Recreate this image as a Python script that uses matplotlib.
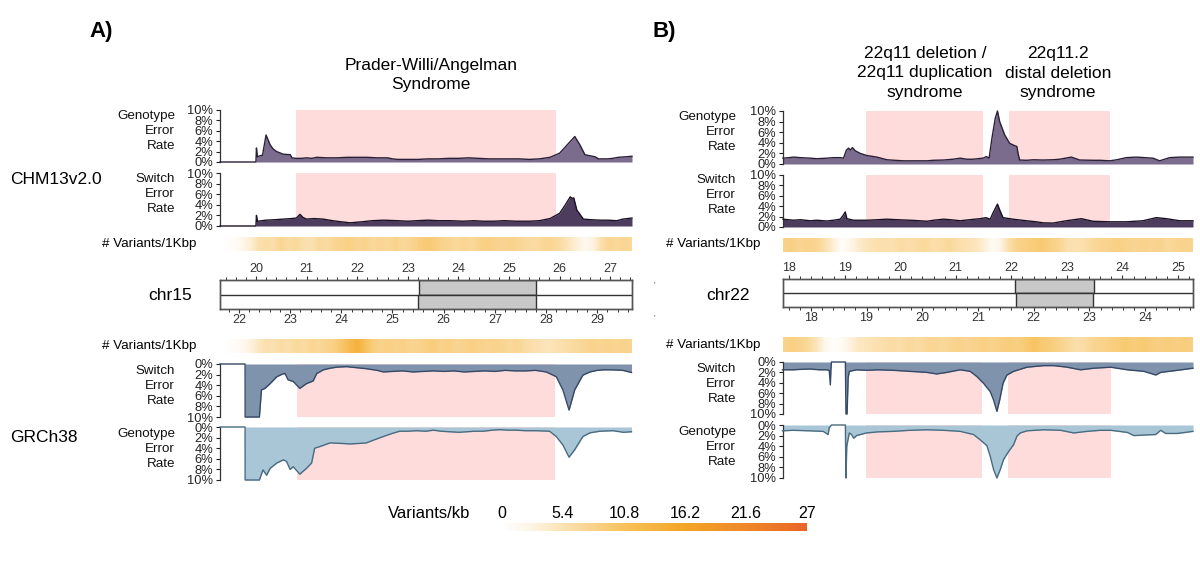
import numpy as np
import matplotlib
matplotlib.use('Agg')
import matplotlib.pyplot as plt
from matplotlib.colors import LinearSegmentedColormap
from matplotlib.patches import Rectangle
from matplotlib.ticker import MultipleLocator

plt.rcParams['font.family'] = ['Liberation Sans', 'DejaVu Sans']

# ---------------- data ----------------
# Panel A (chr15) : CHM13 coordinates (Mb) for top tracks, GRCh38 for bottom tracks
A_top_lim = (19.29, 27.43)
A_bot_lim = (21.63, 29.68)
A_top_cen = (23.22, 25.53)
A_bot_cen = (25.50, 27.80)
A_top_pink = [(20.79, 25.93)]
A_bot_pink = [(23.13, 28.17)]

A_chm_geno = [(19.29, 0), (20.00, 0), (20.01, 2.7), (20.03, 1.0), (20.08, 1.2), (20.13, 1.3),
              (20.20, 5.2), (20.28, 3.3), (20.34, 2.5), (20.41, 2.0), (20.54, 1.5), (20.68, 1.4),
              (20.71, 0.8), (20.80, 0.7), (20.90, 0.7), (21.00, 0.8), (21.10, 0.7), (21.20, 0.9),
              (21.40, 0.8), (21.60, 0.8), (21.80, 0.9), (22.00, 0.9), (22.20, 0.9), (22.40, 0.8),
              (22.60, 0.8), (22.70, 0.6), (22.80, 0.5), (23.00, 0.5), (23.20, 0.5), (23.40, 0.6),
              (23.60, 0.6), (23.80, 0.7), (24.00, 0.7), (24.20, 0.8), (24.40, 0.7), (24.60, 0.6),
              (24.80, 0.6), (25.00, 0.6), (25.20, 0.6), (25.40, 0.5), (25.60, 0.6), (25.81, 0.9),
              (26.00, 1.7), (26.15, 3.3), (26.30, 4.9), (26.40, 3.3), (26.50, 1.4), (26.60, 1.2),
              (26.70, 1.0), (26.77, 0.6), (26.95, 0.6), (27.05, 0.7), (27.16, 0.9), (27.30, 1.0),
              (27.43, 1.1)]

A_chm_switch = [(19.29, 0), (20.00, 0), (20.01, 2.0), (20.03, 0.9), (20.20, 1.1), (20.40, 1.2),
                (20.54, 1.3), (20.70, 1.4), (20.80, 1.5), (20.87, 2.2), (20.93, 1.6), (21.00, 1.3),
                (21.15, 1.4), (21.33, 1.3), (21.45, 1.1), (21.59, 0.9), (21.86, 0.6), (22.10, 0.8),
                (22.30, 1.0), (22.52, 1.1), (22.80, 1.0), (23.00, 0.9), (23.18, 1.0), (23.40, 1.1),
                (23.60, 1.0), (23.83, 1.0), (24.10, 0.9), (24.30, 1.0), (24.49, 0.9), (24.70, 0.9),
                (24.90, 1.0), (25.15, 0.9), (25.40, 0.9), (25.60, 1.0), (25.81, 1.4), (26.00, 2.4),
                (26.10, 3.8), (26.21, 5.5), (26.25, 5.2), (26.28, 5.3), (26.34, 3.0), (26.47, 1.3),
                (26.60, 1.2), (26.80, 1.1), (26.95, 1.1), (27.13, 1.0), (27.25, 1.3), (27.43, 1.5)]

A_grc_switch = [(21.63, 0), (22.12, 0), (22.121, 10), (22.40, 10), (22.44, 4.9), (22.51, 4.6),
                (22.61, 3.7), (22.74, 2.4), (22.85, 1.9), (22.90, 1.8), (22.96, 3.0), (23.06, 3.3),
                (23.19, 4.6), (23.32, 3.7), (23.45, 3.2), (23.52, 1.8), (23.65, 1.1), (23.78, 0.8),
                (23.91, 0.6), (24.10, 0.5), (24.30, 0.7), (24.50, 0.9), (24.70, 1.2), (24.82, 1.5),
                (25.00, 1.4), (25.20, 1.3), (25.40, 1.5), (25.60, 1.4), (25.80, 1.3), (26.00, 1.4),
                (26.20, 1.3), (26.40, 1.5), (26.60, 1.4), (26.80, 1.3), (27.00, 1.4), (27.20, 1.2),
                (27.40, 1.3), (27.60, 1.3), (27.80, 1.2), (28.00, 1.5), (28.07, 1.8), (28.20, 2.4),
                (28.33, 4.9), (28.45, 8.7), (28.56, 4.9), (28.72, 2.1), (28.86, 1.5), (29.00, 1.2),
                (29.12, 1.1), (29.30, 1.1), (29.50, 1.2), (29.67, 1.6)]

A_grc_geno = [(21.63, 0), (22.12, 0), (22.121, 10), (22.40, 10), (22.47, 8.1), (22.54, 9.1),
              (22.61, 7.8), (22.74, 6.8), (22.87, 6.2), (22.93, 6.5), (23.00, 8.0), (23.06, 7.5),
              (23.19, 8.9), (23.32, 7.8), (23.42, 6.8), (23.48, 4.0), (23.58, 3.7), (23.78, 3.0),
              (24.00, 3.1), (24.17, 3.2), (24.35, 3.1), (24.49, 3.0), (24.65, 2.4), (24.82, 1.8),
              (25.00, 1.2), (25.14, 0.8), (25.30, 0.8), (25.47, 0.7), (25.65, 0.8), (25.80, 0.6),
              (25.95, 0.8), (26.12, 0.9), (26.30, 1.0), (26.45, 0.9), (26.60, 0.8), (26.77, 0.8),
              (26.95, 0.6), (27.10, 0.5), (27.25, 0.6), (27.42, 0.6), (27.60, 0.7), (27.80, 0.7),
              (28.07, 0.8), (28.20, 1.8), (28.33, 3.4), (28.45, 5.7), (28.56, 4.3), (28.72, 1.8),
              (28.86, 1.1), (29.05, 0.8), (29.31, 0.7), (29.51, 1.0), (29.67, 0.9)]

A_chm_density = [0, 0.3, 1.0, 2, 3.5, 5.5, 6.5, 6, 7.5, 6.5, 7, 6, 5.5, 7, 6.5, 7.5, 8, 8.5, 7.5,
                 8, 7, 7.5, 7, 8, 7, 7.5, 8.5, 9.5, 9, 8, 7.5, 7, 7.5, 7, 8, 8.5, 8, 7.5, 8, 7.5,
                 7, 6.5, 7, 7.5, 7, 6, 4.5, 3, 1.5, 3, 6, 7.5, 7, 7.5, 7]
A_grc_density = [0, 0.3, 0.8, 1.5, 3, 4.5, 6, 5.5, 6.5, 6, 7, 6.5, 7.5, 7, 8, 8.5, 10, 12, 14, 11,
                 9, 8, 8.5, 8, 8.5, 7.5, 8, 8.5, 9, 8, 8.5, 7.5, 8, 8.5, 8, 7.5, 8, 7.5, 7, 7.5,
                 6.5, 6, 5.5, 5, 5.5, 6, 6.5, 7, 7.5, 8, 7.5, 8, 7.5, 8, 7.5]

# Panel B (chr22)
B_top_lim = (17.89, 25.27)
B_bot_lim = (17.50, 24.86)
B_top_cen = (22.07, 23.49)
B_bot_cen = (21.68, 23.07)
B_top_pink = [(19.38, 21.49), (21.96, 23.77)]
B_bot_pink = [(18.99, 21.08), (21.54, 23.38)]

B_chm_geno = [(17.89, 1.1), (18.00, 1.2), (18.08, 1.3), (18.20, 1.2), (18.38, 1.1), (18.50, 1.0),
              (18.68, 1.1), (18.80, 1.2), (18.92, 1.2), (18.98, 1.1), (19.03, 2.6), (19.07, 3.0),
              (19.10, 2.6), (19.14, 3.1), (19.19, 2.5), (19.28, 2.0), (19.40, 1.6), (19.58, 1.3),
              (19.76, 0.8), (19.90, 0.7), (20.06, 0.6), (20.25, 0.6), (20.48, 0.6), (20.60, 0.7),
              (20.78, 0.75), (20.95, 0.9), (21.08, 1.1), (21.20, 0.9), (21.31, 0.9), (21.49, 1.1),
              (21.55, 1.4), (21.60, 1.1), (21.65, 4.8), (21.71, 8.6), (21.75, 10.0), (21.79, 8.0),
              (21.88, 5.5), (21.97, 3.9), (22.05, 3.5), (22.10, 3.3), (22.12, 2.0), (22.15, 0.75),
              (22.27, 0.7), (22.40, 0.8), (22.57, 0.75), (22.75, 0.8), (22.87, 0.9), (23.08, 1.3),
              (23.23, 0.75), (23.47, 0.7), (23.60, 0.7), (23.77, 0.6), (23.90, 0.8), (24.07, 1.2),
              (24.25, 1.3), (24.40, 1.2), (24.55, 1.1), (24.67, 0.6), (24.85, 1.2), (25.03, 1.3),
              (25.15, 1.3), (25.27, 1.3)]

B_chm_switch = [(17.89, 1.5), (18.08, 1.3), (18.20, 1.4), (18.38, 1.2), (18.50, 1.3), (18.68, 1.15),
                (18.80, 1.3), (18.92, 1.5), (18.97, 2.2), (19.01, 2.9), (19.04, 1.6), (19.16, 1.3),
                (19.40, 1.3), (19.60, 1.4), (19.76, 1.5), (19.95, 1.4), (20.18, 1.3), (20.35, 1.2),
                (20.48, 1.1), (20.60, 1.3), (20.78, 1.5), (20.90, 1.4), (21.08, 1.2), (21.25, 1.4),
                (21.44, 1.6), (21.54, 1.8), (21.62, 1.5), (21.67, 2.7), (21.75, 4.4), (21.79, 3.3),
                (21.85, 1.8), (22.03, 1.5), (22.27, 1.2), (22.45, 1.0), (22.57, 0.8), (22.75, 0.75),
                (22.99, 1.2), (23.26, 1.6), (23.47, 1.1), (23.77, 1.0), (24.07, 1.0), (24.37, 1.2),
                (24.61, 1.8), (24.79, 1.6), (25.03, 1.2), (25.27, 1.2)]

B_grc_switch = [(17.49, 1.5), (17.68, 1.5), (17.85, 1.4), (17.98, 1.35), (18.15, 1.5), (18.28, 1.5),
                (18.33, 1.6), (18.35, 4.4), (18.36, 1.5), (18.37, 0), (18.62, 0), (18.63, 10),
                (18.65, 10), (18.67, 3.0), (18.69, 1.8), (18.82, 1.5), (19.00, 1.6), (19.20, 1.5),
                (19.48, 1.6), (19.78, 1.8), (20.08, 2.0), (20.26, 2.3), (20.44, 2.0), (20.68, 1.5),
                (20.86, 1.8), (20.98, 2.8), (21.10, 4.1), (21.22, 5.7), (21.28, 7.3), (21.34, 9.5),
                (21.39, 7.3), (21.45, 4.1), (21.52, 2.5), (21.64, 1.8), (21.88, 1.0), (22.18, 0.7),
                (22.36, 0.7), (22.60, 1.0), (22.84, 1.5), (23.08, 1.2), (23.38, 1.0), (23.68, 1.5),
                (23.98, 1.8), (24.19, 2.5), (24.28, 2.0), (24.58, 1.6), (24.86, 1.2)]

B_grc_geno = [(17.49, 1.1), (17.68, 1.0), (17.98, 1.1), (18.22, 1.2), (18.28, 1.6), (18.31, 1.8),
              (18.33, 0.5), (18.37, 0), (18.62, 0), (18.63, 10), (18.645, 4.0), (18.69, 1.5),
              (18.73, 1.8), (18.77, 2.5), (18.82, 2.0), (19.00, 1.5), (19.20, 1.3), (19.48, 1.2),
              (19.78, 1.0), (20.08, 0.9), (20.38, 1.0), (20.68, 1.2), (20.92, 1.8), (21.04, 2.8),
              (21.16, 3.9), (21.22, 5.9), (21.28, 8.4), (21.34, 10.0), (21.40, 8.4), (21.46, 6.5),
              (21.55, 5.0), (21.64, 3.7), (21.70, 2.1), (21.76, 1.5), (21.88, 1.1), (22.18, 0.9),
              (22.48, 1.0), (22.72, 1.5), (22.96, 1.2), (23.20, 1.0), (23.38, 1.0), (23.68, 1.4),
              (23.80, 2.0), (23.98, 1.9), (24.19, 1.8), (24.28, 1.0), (24.37, 1.6), (24.58, 1.6),
              (24.86, 1.2)]

B_chm_density = [8, 8.5, 7.5, 8, 7.5, 6, 3.5, 0.5, 2, 4, 5, 5.5, 6, 5.5, 6.5, 6, 6.5, 7, 6, 6.5,
                 7, 6, 5.5, 5, 3.5, 1, 2.5, 6, 8, 8.5, 9, 9.5, 8.5, 7.5, 6, 5.5, 6, 7, 7.5, 8,
                 8.5, 8, 7.5, 8, 7.5, 8, 7, 7.5, 8, 7.5]
B_grc_density = [8, 8.5, 8, 7, 5, 2, 0.3, 1, 3, 4.5, 5, 5.5, 6, 6.5, 6, 7, 6.5, 7, 7.5, 7, 7.5,
                 8, 7.5, 8, 8.5, 8, 8.5, 9, 8.5, 9.5, 10.5, 9.5, 9, 8, 7, 6, 6.5, 7.5, 8, 8.5,
                 9, 9.5, 9, 9.5, 9, 8.5, 9, 8.5, 9, 8.5]

cbar_ticks = [0, 5.4, 10.8, 16.2, 21.6, 27]
pct_ticks = [0, 2, 4, 6, 8, 10]

# ---------------- style ----------------
W, H = 1200, 563
PINK = '#FFDCDC'
C_CG, L_CG = '#7B6B8C', '#2A2038'
C_CS, L_CS = '#4E3C5F', '#1C1226'
C_GS, L_GS = '#7F93AD', '#354865'
C_GG, L_GG = '#A8C6D6', '#4A6A80'
cmap = LinearSegmentedColormap.from_list('var', [
    (0.0, '#FFFFFF'), (0.1, '#FEF4E4'), (0.2, '#FCE2B4'), (0.3, '#F9D28A'),
    (0.4, '#F7C25C'), (0.6, '#F3A526'), (0.8, '#EF892A'), (1.0, '#EA6429')])

fig = plt.figure(figsize=(12, 5.63), dpi=100)


def ax_px(l, t, r, b):
    return fig.add_axes([l / W, 1 - b / H, (r - l) / W, (b - t) / H])


def ftext(x, y, s, **kw):
    fig.text(x / W, 1 - y / H, s, **kw)


def error_panel(rect, xlim, series, fill, line, pinks, inverted):
    ax = ax_px(*rect)
    xs = [p[0] for p in series]
    ys = [p[1] for p in series]
    ax.set_xlim(xlim)
    if inverted:
        ax.set_ylim(10, 0)
    else:
        ax.set_ylim(0, 10)
    for a, b in pinks:
        ax.axvspan(a, b, color=PINK, lw=0, zorder=0)
    ax.fill_between(xs, 0, ys, color=fill, lw=0, zorder=2)
    ax.plot(xs, ys, color=line, lw=1.0, zorder=3, clip_on=False)
    for s in ['top', 'right', 'bottom']:
        ax.spines[s].set_visible(False)
    ax.spines['left'].set_color('#333333')
    ax.spines['left'].set_linewidth(0.9)
    ax.set_xticks([])
    ax.set_yticks(pct_ticks)
    ax.set_yticklabels([f'{v}%' for v in pct_ticks])
    ax.tick_params(axis='y', length=3, width=0.8, pad=2, labelsize=9.3, colors='#222222')
    ax.patch.set_alpha(0)
    return ax


def strip(rect, lim, vals):
    ax = ax_px(*rect)
    n = len(vals)
    step = (lim[1] - lim[0]) / n
    centers = np.linspace(lim[0] + step / 2, lim[1] - step / 2, n)
    ax.pcolormesh(centers, [0, 1], np.array([vals, vals]), cmap=cmap, vmin=0, vmax=27,
                  shading='gouraud')
    ax.set_xlim(lim[0] + step / 2, lim[1] - step / 2)
    ax.set_axis_off()


def style_ideo_axis(a):
    a.xaxis.set_major_locator(MultipleLocator(1))
    a.xaxis.set_minor_locator(MultipleLocator(0.2))
    a.tick_params(axis='x', which='major', length=3, width=0.8, pad=0.5, labelsize=9, colors='#333333')
    a.tick_params(axis='x', which='minor', length=2, width=0.7, colors='#333333')
    for s in a.spines.values():
        s.set_color('#555555')
        s.set_linewidth(1.0)


def ideogram(rect, top_lim, bot_lim, top_cen, bot_cen):
    ax = ax_px(*rect)
    ax.set_xlim(top_lim)
    ax.set_ylim(0, 1)
    ax.set_yticks([])
    ax.add_patch(Rectangle((top_cen[0], 0.5), top_cen[1] - top_cen[0], 0.5,
                           fc='#C8C8C8', ec='#333333', lw=1.0, zorder=1))
    ax.axhline(0.5, color='#333333', lw=1.0, zorder=3)
    ax2 = ax.twiny()
    ax2.set_xlim(bot_lim)
    ax2.set_ylim(0, 1)
    ax2.add_patch(Rectangle((bot_cen[0], 0), bot_cen[1] - bot_cen[0], 0.5,
                            fc='#C8C8C8', ec='#333333', lw=1.0, zorder=1))
    ax.xaxis.tick_top()
    ax2.xaxis.tick_bottom()
    style_ideo_axis(ax)
    style_ideo_axis(ax2)


def side_label(xr, yc, s):
    ftext(xr, yc, s, ha='right', va='center', fontsize=9.6, linespacing=1.3, color='#111111')


# ---------------- panel A ----------------
error_panel((220, 110, 632, 162), A_top_lim, A_chm_geno, C_CG, L_CG, A_top_pink, False)
error_panel((220, 173, 632, 226), A_top_lim, A_chm_switch, C_CS, L_CS, A_top_pink, False)
strip((220, 237, 632, 251), A_top_lim, A_chm_density)
ideogram((220, 280, 632, 309), A_top_lim, A_bot_lim, A_top_cen, A_bot_cen)
strip((220, 339, 632, 353), A_bot_lim, A_grc_density)
error_panel((220, 364, 632, 417), A_bot_lim, A_grc_switch, C_GS, L_GS, A_bot_pink, True)
error_panel((220, 427, 632, 480), A_bot_lim, A_grc_geno, C_GG, L_GG, A_bot_pink, True)

side_label(175, 131, 'Genotype\nError\nRate')
side_label(175, 194, 'Switch\nError\nRate')
side_label(175, 386, 'Switch\nError\nRate')
side_label(175, 449, 'Genotype\nError\nRate')
ftext(196, 244, '# Variants/1Kbp', ha='right', va='center', fontsize=9.6)
ftext(196, 346, '# Variants/1Kbp', ha='right', va='center', fontsize=9.6)
ftext(148, 295, 'chr15', ha='left', va='center', fontsize=12.5)
ftext(10, 180, 'CHM13v2.0', ha='left', va='center', fontsize=12.5)
ftext(10, 438, 'GRCh38', ha='left', va='center', fontsize=12.5)
ftext(89, 32, 'A)', ha='left', va='center', fontsize=16, fontweight='bold')
ftext(431, 75, 'Prader-Willi/Angelman\nSyndrome', ha='center', va='center', fontsize=12.5,
      linespacing=1.3)

# ---------------- panel B ----------------
error_panel((783, 111, 1193, 164), B_top_lim, B_chm_geno, C_CG, L_CG, B_top_pink, False)
error_panel((783, 175, 1193, 227), B_top_lim, B_chm_switch, C_CS, L_CS, B_top_pink, False)
strip((783, 238, 1193, 252), B_top_lim, B_chm_density)
ideogram((783, 279, 1193, 307), B_top_lim, B_bot_lim, B_top_cen, B_bot_cen)
strip((783, 337, 1193, 352), B_bot_lim, B_grc_density)
error_panel((783, 362, 1193, 414), B_bot_lim, B_grc_switch, C_GS, L_GS, B_bot_pink, True)
error_panel((783, 425, 1193, 478), B_bot_lim, B_grc_geno, C_GG, L_GG, B_bot_pink, True)

side_label(736, 132, 'Genotype\nError\nRate')
side_label(736, 195, 'Switch\nError\nRate')
side_label(736, 384, 'Switch\nError\nRate')
side_label(736, 447, 'Genotype\nError\nRate')
ftext(760, 244, '# Variants/1Kbp', ha='right', va='center', fontsize=9.6)
ftext(760, 345, '# Variants/1Kbp', ha='right', va='center', fontsize=9.6)
ftext(706, 295, 'chr22', ha='left', va='center', fontsize=12.5)
ftext(652, 32, 'B)', ha='left', va='center', fontsize=16, fontweight='bold')
ftext(925, 73, '22q11 deletion /\n22q11 duplication\nsyndrome', ha='center', va='center',
      fontsize=12.5, linespacing=1.35)
ftext(1058, 73, '22q11.2\ndistal deletion\nsyndrome', ha='center', va='center',
      fontsize=12.5, linespacing=1.35)
ftext(654, 285, "'", ha='center', va='center', fontsize=6, color='#444444')
ftext(654, 318, "'", ha='center', va='center', fontsize=6, color='#444444')

# ---------------- colour bar ----------------
cax = ax_px(502, 523, 807, 531)
cax.imshow(np.linspace(0, 27, 256)[None, :], aspect='auto', cmap=cmap, vmin=0, vmax=27,
           extent=(0, 27, 0, 1))
cax.set_axis_off()
ftext(388, 513, 'Variants/kb', ha='left', va='center', fontsize=12)
for v in cbar_ticks:
    ftext(502 + (807 - 502) * v / 27, 513, f'{v:g}', ha='center', va='center', fontsize=11.5)

fig.savefig('out.png', dpi=100)
